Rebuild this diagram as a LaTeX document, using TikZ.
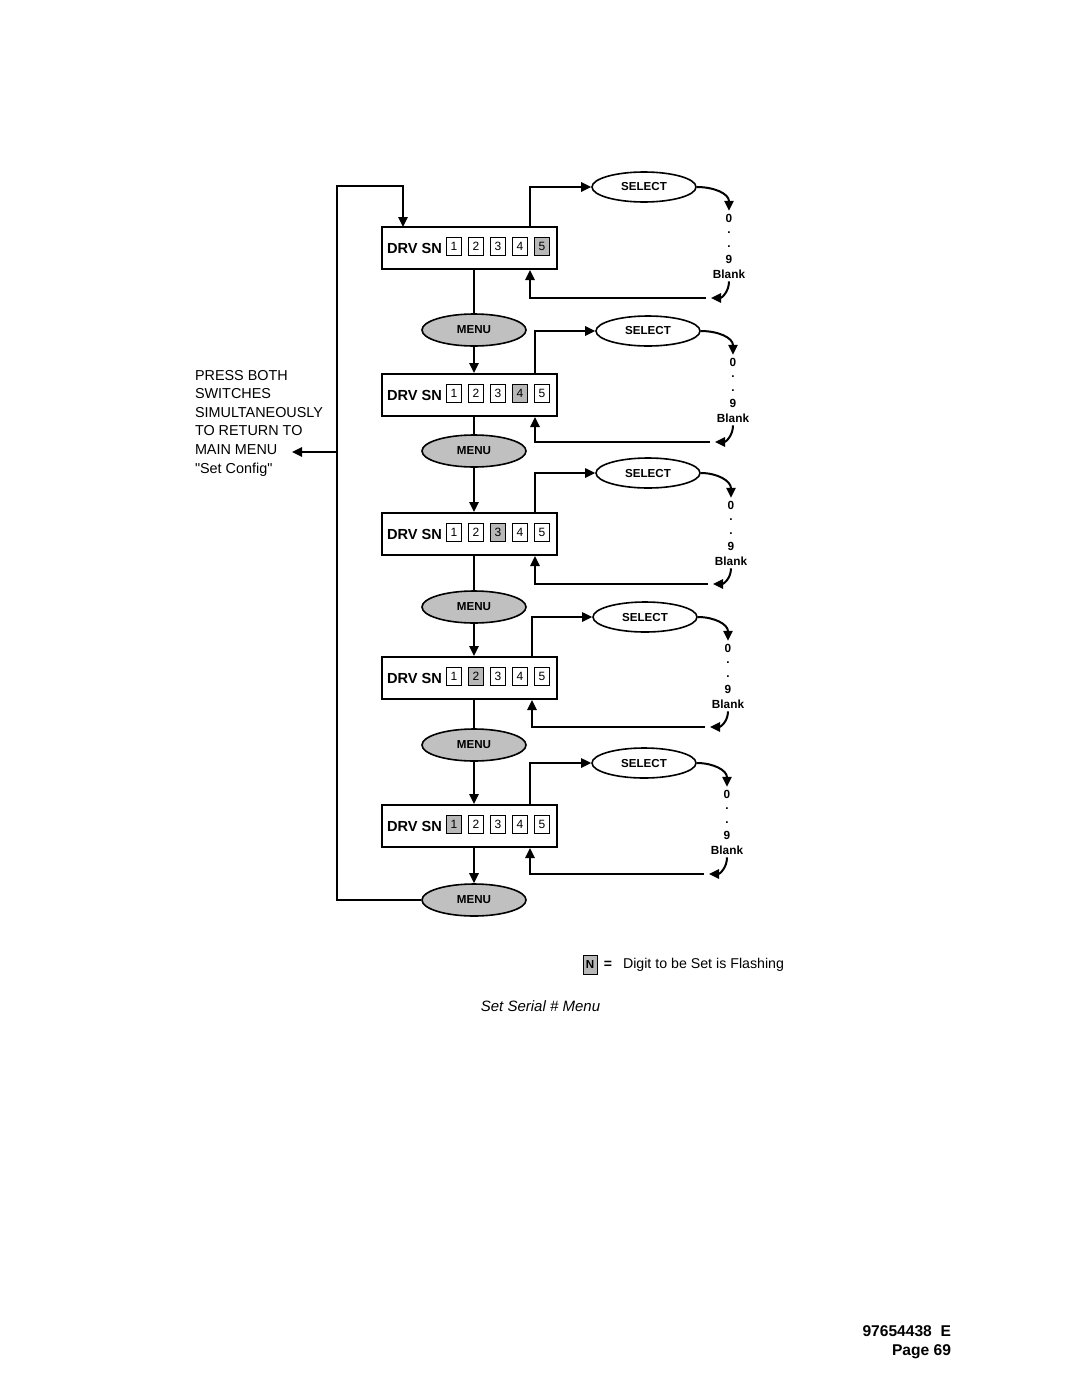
\documentclass[tikz,border=0pt]{standalone}
\usepackage{fontspec}
\setmainfont{Liberation Sans}
\newfontfamily\plainsans{Liberation Sans}[Ligatures=TeXOff]
\usetikzlibrary{arrows.meta,shapes.geometric}
\definecolor{menugray}{RGB}{192,192,192}
\definecolor{flashgray}{RGB}{184,184,184}
\begin{document}
\begin{tikzpicture}[x=0.5pt,y=-0.5pt,line width=1pt,
  arr/.style={-{Triangle[length=5pt,width=4.6pt]}},
  dbox/.style={draw,minimum width=87.5pt,minimum height=21pt,inner sep=0pt},
  dlab/.style={font=\bfseries\fontsize{7.3}{8}\selectfont,inner sep=0pt},
  dig/.style={draw,line width=0.5pt,minimum width=7.5pt,minimum height=9pt,inner sep=0pt,font=\fontsize{6}{7}\selectfont},
  menu/.style={ellipse,draw,line width=0.8pt,fill=menugray,minimum width=52pt,minimum height=16pt,inner sep=0pt,font=\bfseries\fontsize{5.8}{7}\selectfont},
  sel/.style={ellipse,draw,line width=0.8pt,fill=white,minimum width=52pt,minimum height=15pt,inner sep=0pt,font=\bfseries\fontsize{5.8}{7}\selectfont},
  val/.style={font=\bfseries\fontsize{5.9}{7}\selectfont,inner sep=1pt},
]
\useasboundingbox (0,0) rectangle (1080,1397);

% rows
\foreach \k/\t/\sx/\sy/\bx/\vx/\vy/\ry/\f in {
  1/227/644/187/530/729/218/298/5,
  2/374/648/331/535/733/362/442/4,
  3/513/648/473/535/731/505/584/3,
  4/657/645/617/532/728/648/727/2,
  5/805/644/763/530/727/794/874/1}{
  \node[dbox] (b\k) at (469.5,\t+21) {};
  \node[dlab] (lab\k) at (414.5,\t+21) {DRV SN};
  \foreach \i in {1,...,5}{
    \ifnum\i=\f\relax\def\fc{flashgray}\else\def\fc{white}\fi
    \node[dig,fill=\fc] (d\k\i) at (454+22*\i-22,\t+19) {\i};
  }
  \node[sel] (s\k) at (\sx,\sy) {SELECT};
  \node[val] (v\k-0) at (\vx,\vy) {0};
  \node[val] (v\k-d1) at (\vx,\vy+15) {.};
  \node[val] (v\k-d2) at (\vx,\vy+28.5) {.};
  \node[val] (v\k-9) at (\vx,\vy+41) {9};
  \node[val] (v\k-b) at (\vx,\vy+56) {Blank};
  \coordinate (t\k) at (\bx,\t);
  \coordinate (r\k) at (\vx-18,\ry);
  \coordinate (rr\k) at (\vx-23,\ry);
  \draw[arr] (t\k) |- (s\k.west);
  \draw[arr] (s\k.east) to[out=0,in=90,looseness=1.1] (v\k-0.north);
  \draw[arr] (v\k-b.south) to[out=-90,in=0,looseness=1.1] (r\k);
  \draw[arr] (rr\k) -| (b\k.south -| t\k);
}

% menus
\node[menu] (m1) at (474,330) {MENU};
\node[menu] (m2) at (474,451) {MENU};
\node[menu] (m3) at (474,607) {MENU};
\node[menu] (m4) at (474,745) {MENU};
\node[menu] (m5) at (474,900) {MENU};

% vertical flow
\draw (b1.south -| m1.north) -- (m1.north);
\draw[arr] (m1.south) -- (m1.south |- b2.north);
\draw (b2.south -| m2.north) -- (m2.north);
\draw[arr] (m2.south) -- (m2.south |- b3.north);
\draw (b3.south -| m3.north) -- (m3.north);
\draw[arr] (m3.south) -- (m3.south |- b4.north);
\draw (b4.south -| m4.north) -- (m4.north);
\draw[arr] (m4.south) -- (m4.south |- b5.north);
\draw[arr] (b5.south -| m5.north) -- (m5.north);

% return loop
\coordinate (lt) at (337,186);
\coordinate (bt) at (403,227);
\draw[arr] (m5.west) -| (lt) -| (bt);

% press both switches
\node[anchor=north west,align=left,inner sep=0pt,font=\plainsans\fontsize{7.2}{9.3}\selectfont] (press) at (194,369)
  {PRESS BOTH\\SWITCHES\\SIMULTANEOUSLY\\TO RETURN TO\\MAIN MENU\\"Set Config"};
\coordinate (pj) at (337,452);
\coordinate (pe) at (292,452);
\draw[arr] (pj) -- (pe);

% legend
\node[dig,fill=flashgray,minimum width=7pt,minimum height=9.5pt,font=\bfseries\fontsize{5.8}{7}\selectfont] (nkey) at (590,964.5) {N};
\node[font=\bfseries\fontsize{7}{8}\selectfont,inner sep=0pt] (eq) at (608,965) {=};
\node[anchor=west,inner sep=0pt,font=\fontsize{7.1}{8}\selectfont] (keytext) at (622,964.5) {Digit to be Set is Flashing};

% caption
\node[font=\itshape\fontsize{7.5}{9}\selectfont] (cap) at (540.5,1006) {Set Serial \# Menu};

% footer
\node[anchor=north east,align=right,inner sep=0pt,font=\bfseries\fontsize{7.8}{9.5}\selectfont] (foot) at (952,1325)
  {97654438\ \ E\\Page 69};
\end{tikzpicture}
\end{document}
